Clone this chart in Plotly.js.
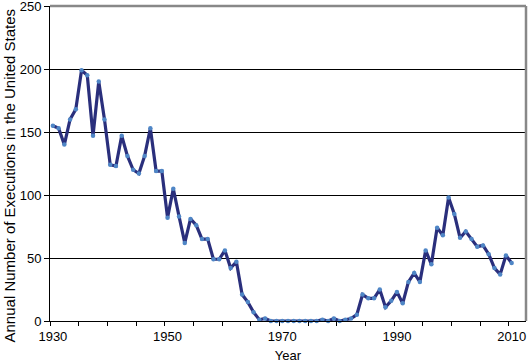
<!DOCTYPE html>
<html><head><meta charset="utf-8">
<script src="https://cdn.plot.ly/plotly-3.0.1.min.js"></script>
<style>html,body{margin:0;padding:0;background:#fff}#chart{width:528px;height:364px}</style>
</head><body><div id="chart"></div>
<script>
const years = [];
for (let y = 1930; y <= 2010; y++) years.push(y);
const executions = [155,153,140,160,168,199,195,147,190,160,
  124,123,147,131,120,117,131,153,119,119,
  82,105,83,62,81,76,65,65,49,49,
  56,42,47,21,15,7,1,2,0,0,
  0,0,0,0,0,0,0,1,0,2,
  0,1,2,5,21,18,18,25,11,16,
  23,14,31,38,31,56,45,74,68,98,
  85,66,71,65,59,60,53,42,37,52,46];
const xTickVals = [1930,1950,1970,1990,2010];
const xTickText = ['1930','1950','1970','1990','2010'];
const yTickVals = [0,50,100,150,200,250];

const font = {family:'"Liberation Sans", Arial, sans-serif', size:13, color:'#000'};
Plotly.newPlot('chart', [{
  x: years, y: executions, type:'scatter', mode:'lines+markers',
  line:{color:'#2a2f7c', width:3.2},
  marker:{color:'#4f86c6', size:4.5, line:{width:0}},
  cliponaxis:false, hoverinfo:'skip'
}], {
  width:528, height:364,
  margin:{l:50, r:2, t:6, b:43},
  paper_bgcolor:'#fff', plot_bgcolor:'#fff',
  font: font,
  showlegend:false,
  xaxis:{
    range:[1929.5, 2012.5], tickvals:xTickVals, ticktext:xTickText,
    ticks:'', showgrid:false, zeroline:false,
    showline:true, linecolor:'#000', linewidth:1,
    tickfont:font, ticklabelstandoff:3,
    minor:{tick0:1929.5, dtick:5, ticks:'outside', ticklen:4, tickcolor:'#000', tickwidth:1, showgrid:false},
    title:{text:'Year', font:font, standoff:8}
  },
  yaxis:{
    range:[0,250], tickvals:yTickVals, ticks:'outside', ticklen:5, tickcolor:'#000',
    showgrid:true, gridcolor:'#000', gridwidth:1, zeroline:false,
    showline:true, linecolor:'#000', linewidth:1,
    tickfont:font, ticklabeloverflow:'allow'
  },
  shapes:[
    {type:'line', xref:'paper', yref:'paper', x0:0, x1:1, y0:1, y1:1, line:{color:'#888', width:2.5}},
    {type:'line', xref:'paper', yref:'paper', x0:1, x1:1, y0:0, y1:1, line:{color:'#888', width:2.5}}
  ],
  annotations:[{
    text:'Annual Number of Executions in the United States',
    xref:'paper', yref:'paper', x:-0.0861, y:0.462, xanchor:'center', yanchor:'middle',
    textangle:-90, showarrow:false, font:{family:font.family, size:15, color:'#000'}
  }]
}, {displayModeBar:false, staticPlot:true});
</script></body></html>
